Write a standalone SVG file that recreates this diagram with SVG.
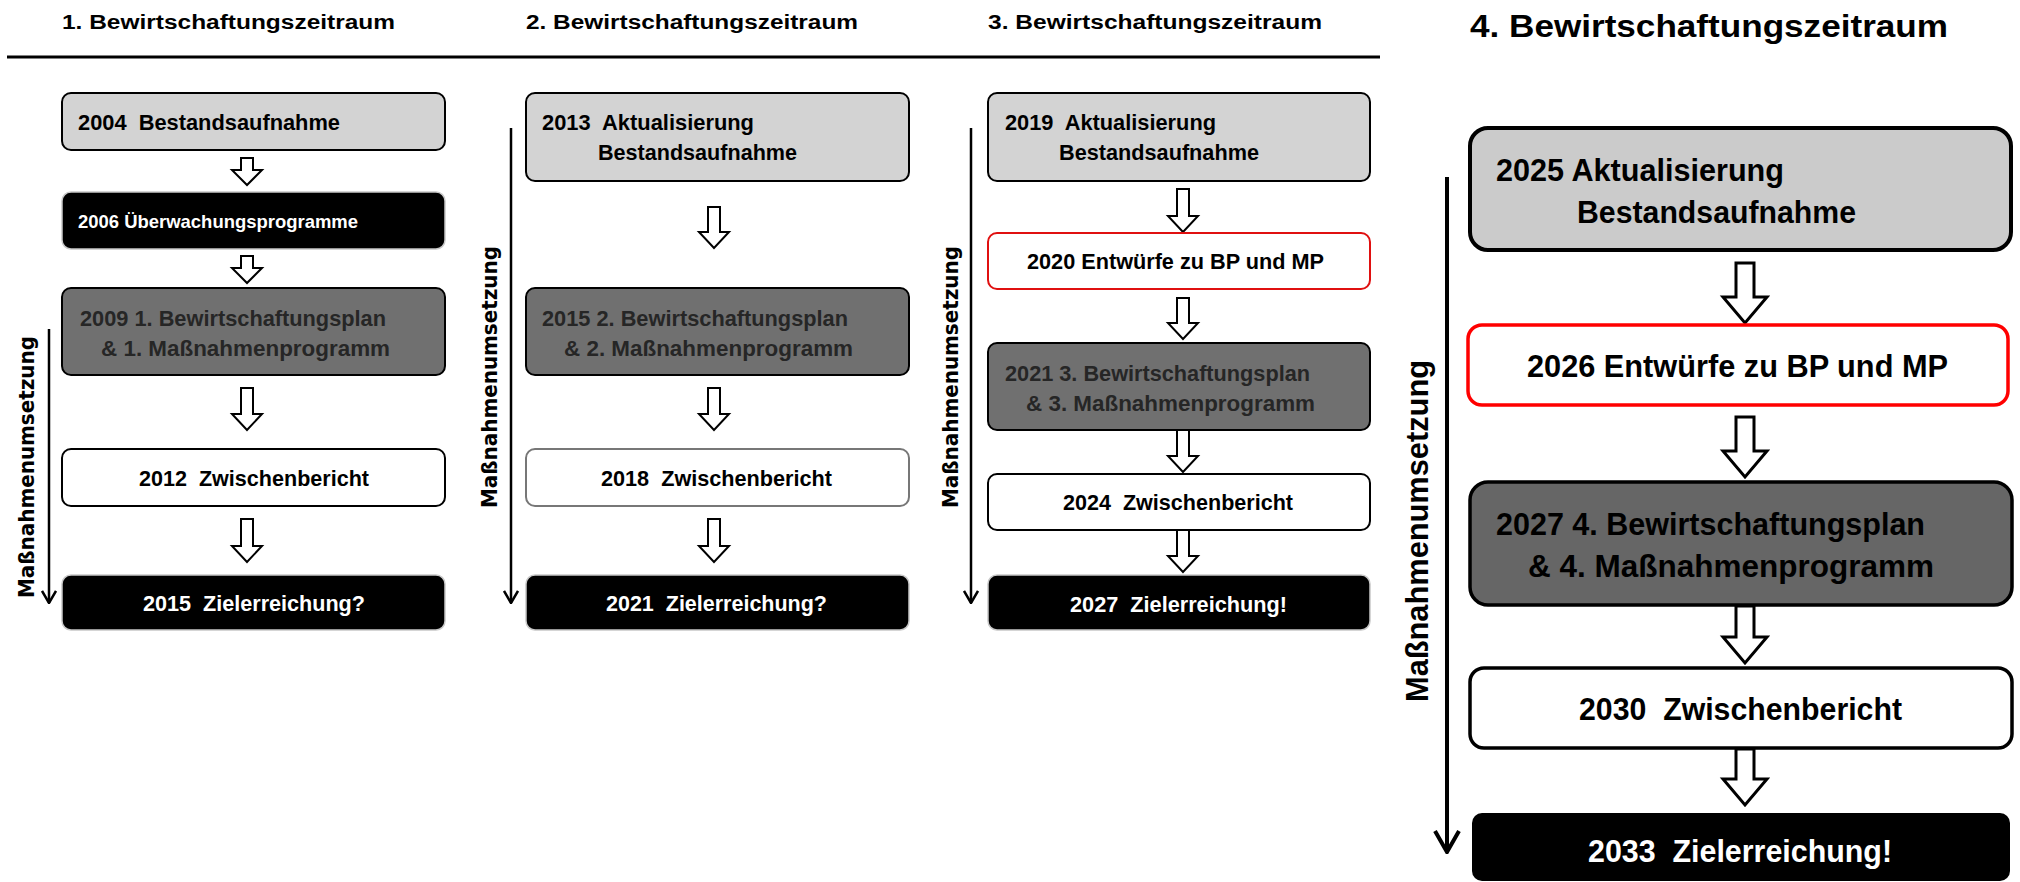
<svg xmlns="http://www.w3.org/2000/svg" width="2020" height="882" viewBox="0 0 2020 882">
<style>
.t{font-family:"Liberation Sans",Arial,sans-serif;font-weight:bold;fill:#000}
.h{font-size:20px}
.h4{font-size:32px}
.s{font-size:22px}
.s4{font-size:31px}
.w{fill:#fff}
.dk{fill:#262626}
.lab{font-family:"DejaVu Sans",Verdana,sans-serif;font-weight:bold;font-size:21px;text-anchor:middle}
.lab4{font-family:"Liberation Sans",Arial,sans-serif;font-weight:bold;font-size:31px;text-anchor:middle}
.lg{fill:#d3d3d3;stroke:#000;stroke-width:2}
.dg{fill:#707070;stroke:#000;stroke-width:2}
.bk{fill:#000;stroke:#c8c8c8;stroke-width:1.5}
.wh{fill:#fff;stroke:#000;stroke-width:2}
.whg{fill:#fff;stroke:#777;stroke-width:2}
.rd{fill:#fff;stroke:#e01010;stroke-width:2}
.lg4{fill:#cbcbcb;stroke:#000;stroke-width:4}
.dg4{fill:#666;stroke:#000;stroke-width:3.5}
.wh4{fill:#fff;stroke:#000;stroke-width:3.5}
.rd4{fill:#fff;stroke:#f00;stroke-width:3.5}
.bk4{fill:#000;stroke:none}
.ar{fill:#fff;stroke:#000;stroke-width:2}
.ar4{fill:#fff;stroke:#000;stroke-width:3}
.vl{stroke:#000;stroke-width:2.5;fill:none}
.vl4{stroke:#000;stroke-width:4;fill:none}
</style>
<defs>
<marker id="v1" viewBox="0 0 14 16" markerWidth="14" markerHeight="16" refX="13" refY="8" orient="auto" markerUnits="userSpaceOnUse">
<path d="M1,1 L13,8 L1,15" fill="none" stroke="#000" stroke-width="2.5"/>
</marker>
<marker id="v4" viewBox="0 0 24 28" markerWidth="24" markerHeight="28" refX="22" refY="14" orient="auto" markerUnits="userSpaceOnUse">
<path d="M1,2 L22,14 L1,26" fill="none" stroke="#000" stroke-width="4"/>
</marker>
</defs>
<rect width="2020" height="882" fill="#fff"/>

<g id="headers">
<text class="t h" x="62" y="29" textLength="333" lengthAdjust="spacingAndGlyphs">1. Bewirtschaftungszeitraum</text>
<text class="t h" x="526" y="29" textLength="332" lengthAdjust="spacingAndGlyphs">2. Bewirtschaftungszeitraum</text>
<text class="t h" x="988" y="29" textLength="334" lengthAdjust="spacingAndGlyphs">3. Bewirtschaftungszeitraum</text>
<text class="t h4" x="1470" y="37" textLength="478" lengthAdjust="spacingAndGlyphs">4. Bewirtschaftungszeitraum</text>
<line x1="7" y1="57" x2="1380" y2="57" stroke="#000" stroke-width="3"/>
</g>

<g id="connectors">
<polygon class="ar" points="241,158 253,158 253,170 262,170 247,185 232,170 241,170"/>
<polygon class="ar" points="241,256 253,256 253,268 262,268 247,283 232,268 241,268"/>
<polygon class="ar" points="241,388 253,388 253,414 262,414 247,430 232,414 241,414"/>
<polygon class="ar" points="241,519 253,519 253,546 262,546 247,562 232,546 241,546"/>
<polygon class="ar" points="708,207 720,207 720,232 729,232 714,248 699,232 708,232"/>
<polygon class="ar" points="708,388 720,388 720,414 729,414 714,430 699,414 708,414"/>
<polygon class="ar" points="708,519 720,519 720,546 729,546 714,562 699,546 708,546"/>
<polygon class="ar" points="1177,189 1189,189 1189,216 1198,216 1183,232 1168,216 1177,216"/>
<polygon class="ar" points="1177,298 1189,298 1189,323 1198,323 1183,339 1168,323 1177,323"/>
<polygon class="ar" points="1177,430 1189,430 1189,456 1198,456 1183,472 1168,456 1177,456"/>
<polygon class="ar" points="1177,530 1189,530 1189,556 1198,556 1183,572 1168,556 1177,556"/>
<polygon class="ar4" points="1736,263 1754,263 1754,297 1767,297 1745,323 1723,297 1736,297"/>
<polygon class="ar4" points="1736,417 1754,417 1754,451 1767,451 1745,477 1723,451 1736,451"/>
<polygon class="ar4" points="1736,606 1754,606 1754,637 1767,637 1745,663 1723,637 1736,637"/>
<polygon class="ar4" points="1736,749 1754,749 1754,779 1767,779 1745,805 1723,779 1736,779"/>
<line class="vl" x1="49" y1="329" x2="49" y2="603" marker-end="url(#v1)"/>
<line class="vl" x1="511" y1="128" x2="511" y2="603" marker-end="url(#v1)"/>
<line class="vl" x1="971" y1="128" x2="971" y2="603" marker-end="url(#v1)"/>
<line class="vl4" x1="1447" y1="177" x2="1447" y2="852" marker-end="url(#v4)"/>
</g>

<g id="labels">
<text class="lab" transform="translate(34,467) rotate(-90)" textLength="262" lengthAdjust="spacingAndGlyphs">Maßnahmenumsetzung</text>
<text class="lab" transform="translate(497,377) rotate(-90)" textLength="262" lengthAdjust="spacingAndGlyphs">Maßnahmenumsetzung</text>
<text class="lab" transform="translate(958,377) rotate(-90)" textLength="262" lengthAdjust="spacingAndGlyphs">Maßnahmenumsetzung</text>
<text class="lab4" transform="translate(1428,531) rotate(-90)" textLength="342" lengthAdjust="spacingAndGlyphs">Maßnahmenumsetzung</text>
</g>

<g id="n2004"><rect class="lg" x="62" y="93" width="383" height="57" rx="9"/>
<text class="t s" x="78" y="130" xml:space="preserve" textLength="262" lengthAdjust="spacingAndGlyphs">2004  Bestandsaufnahme</text></g>
<g id="n2006"><rect class="bk" x="62" y="192" width="383" height="57" rx="9"/>
<text class="t w" style="font-size:19px" x="78" y="228" textLength="280" lengthAdjust="spacingAndGlyphs">2006 Überwachungsprogramme</text></g>
<g id="n2009"><rect class="dg" x="62" y="288" width="383" height="87" rx="9"/>
<text class="t s dk" x="80" y="326" textLength="306" lengthAdjust="spacingAndGlyphs">2009 1. Bewirtschaftungsplan</text>
<text class="t s dk" x="101" y="356" textLength="289" lengthAdjust="spacingAndGlyphs">&amp; 1. Maßnahmenprogramm</text></g>
<g id="n2012"><rect class="wh" x="62" y="449" width="383" height="57" rx="9"/>
<text class="t s" x="139" y="486" xml:space="preserve" textLength="230" lengthAdjust="spacingAndGlyphs">2012  Zwischenbericht</text></g>
<g id="n2015z"><rect class="bk" x="62" y="575" width="383" height="55" rx="9"/>
<text class="t s w" x="143" y="611" xml:space="preserve" textLength="222" lengthAdjust="spacingAndGlyphs">2015  Zielerreichung?</text></g>

<g id="n2013"><rect class="lg" x="526" y="93" width="383" height="88" rx="9"/>
<text class="t s" x="542" y="130" xml:space="preserve" textLength="212" lengthAdjust="spacingAndGlyphs">2013  Aktualisierung</text>
<text class="t s" x="598" y="160" textLength="199" lengthAdjust="spacingAndGlyphs">Bestandsaufnahme</text></g>
<g id="n2015"><rect class="dg" x="526" y="288" width="383" height="87" rx="9"/>
<text class="t s dk" x="542" y="326" textLength="306" lengthAdjust="spacingAndGlyphs">2015 2. Bewirtschaftungsplan</text>
<text class="t s dk" x="564" y="356" textLength="289" lengthAdjust="spacingAndGlyphs">&amp; 2. Maßnahmenprogramm</text></g>
<g id="n2018"><rect class="whg" x="526" y="449" width="383" height="57" rx="9"/>
<text class="t s" x="601" y="486" xml:space="preserve" textLength="231" lengthAdjust="spacingAndGlyphs">2018  Zwischenbericht</text></g>
<g id="n2021z"><rect class="bk" x="526" y="575" width="383" height="55" rx="9"/>
<text class="t s w" x="606" y="611" xml:space="preserve" textLength="221" lengthAdjust="spacingAndGlyphs">2021  Zielerreichung?</text></g>

<g id="n2019"><rect class="lg" x="988" y="93" width="382" height="88" rx="9"/>
<text class="t s" x="1005" y="130" xml:space="preserve" textLength="211" lengthAdjust="spacingAndGlyphs">2019  Aktualisierung</text>
<text class="t s" x="1059" y="160" textLength="200" lengthAdjust="spacingAndGlyphs">Bestandsaufnahme</text></g>
<g id="n2020"><rect class="rd" x="988" y="233" width="382" height="56" rx="9"/>
<text class="t s" x="1027" y="269" textLength="297" lengthAdjust="spacingAndGlyphs">2020 Entwürfe zu BP und MP</text></g>
<g id="n2021"><rect class="dg" x="988" y="343" width="382" height="87" rx="9"/>
<text class="t s dk" x="1005" y="381" textLength="305" lengthAdjust="spacingAndGlyphs">2021 3. Bewirtschaftungsplan</text>
<text class="t s dk" x="1026" y="411" textLength="289" lengthAdjust="spacingAndGlyphs">&amp; 3. Maßnahmenprogramm</text></g>
<g id="n2024"><rect class="wh" x="988" y="474" width="382" height="56" rx="9"/>
<text class="t s" x="1063" y="510" xml:space="preserve" textLength="230" lengthAdjust="spacingAndGlyphs">2024  Zwischenbericht</text></g>
<g id="n2027z"><rect class="bk" x="988" y="575" width="382" height="55" rx="9"/>
<text class="t s w" x="1070" y="612" xml:space="preserve" textLength="217" lengthAdjust="spacingAndGlyphs">2027  Zielerreichung!</text></g>

<g id="n2025"><rect class="lg4" x="1470" y="128" width="541" height="122" rx="18"/>
<text class="t s4" x="1496" y="181" textLength="288" lengthAdjust="spacingAndGlyphs">2025 Aktualisierung</text>
<text class="t s4" x="1577" y="223" textLength="279" lengthAdjust="spacingAndGlyphs">Bestandsaufnahme</text></g>
<g id="n2026"><rect class="rd4" x="1468" y="325" width="540" height="80" rx="14"/>
<text class="t s4" x="1527" y="377" textLength="421" lengthAdjust="spacingAndGlyphs">2026 Entwürfe zu BP und MP</text></g>
<g id="n2027"><rect class="dg4" x="1470" y="482" width="542" height="123" rx="18"/>
<text class="t s4" x="1496" y="535" textLength="429" lengthAdjust="spacingAndGlyphs">2027 4. Bewirtschaftungsplan</text>
<text class="t s4" x="1528" y="577" textLength="406" lengthAdjust="spacingAndGlyphs">&amp; 4. Maßnahmenprogramm</text></g>
<g id="n2030"><rect class="wh4" x="1470" y="668" width="542" height="80" rx="14"/>
<text class="t s4" x="1579" y="720" xml:space="preserve" textLength="323" lengthAdjust="spacingAndGlyphs">2030  Zwischenbericht</text></g>
<g id="n2033"><rect class="bk4" x="1472" y="813" width="538" height="68" rx="10"/>
<text class="t s4 w" x="1588" y="862" xml:space="preserve" textLength="304" lengthAdjust="spacingAndGlyphs">2033  Zielerreichung!</text></g>
</svg>
